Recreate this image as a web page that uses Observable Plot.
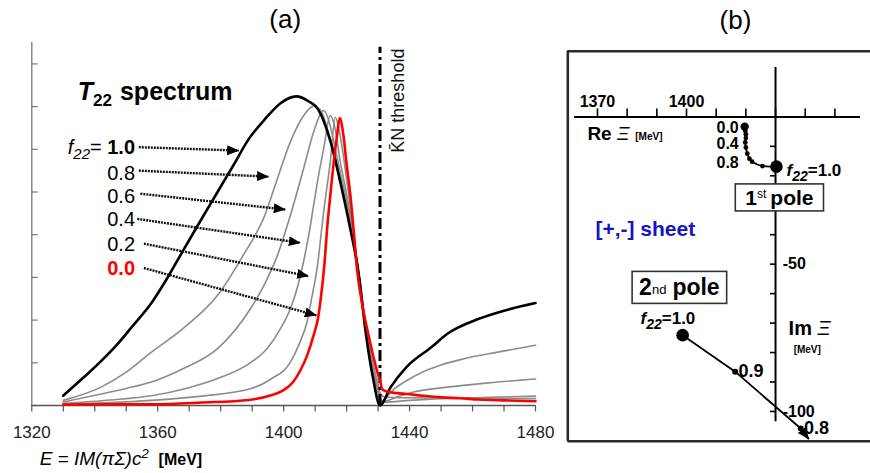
<!DOCTYPE html>
<html><head><meta charset="utf-8">
<script src="https://cdn.jsdelivr.net/npm/d3@7"></script>
<script src="https://cdn.jsdelivr.net/npm/@observablehq/plot@0.6"></script>
<style>
body{margin:0;background:#fff;}
#wrap{position:relative;width:870px;height:473px;overflow:hidden;background:#fff;}
#wrap svg{position:absolute;top:0;overflow:visible;}
</style></head><body><div id="wrap"></div>
<script>
// ================= Panel (a): T22 spectrum =================
const fValues = [1.0, 0.8, 0.6, 0.4, 0.2, 0.0];

const E_f10 = [1330,1336.5,1342,1347,1352,1358,1363,1368,1374,1379,1384,1389,1394,1399,1404,1408,1411,1415,1418,1421,1424,1426,1428.5,1430.6,1434,1439,1447,1452,1462,1470,1480];
const T_f10 = [0.23,0.66,1.04,1.42,1.86,2.40,2.98,3.62,4.38,5.00,5.62,6.25,6.70,7.08,7.24,7.12,6.93,6.15,5.23,4.20,3.00,1.75,0.60,0.0,0.43,0.90,1.37,1.68,2.03,2.22,2.40];

const E_f08 = [1330,1342,1350,1358,1368,1379,1387,1394,1398,1402,1406,1409.5,1412,1414,1416,1418,1420,1422,1424,1426,1428,1430,1430.6,1432,1435,1439,1444,1450,1457,1468,1480];
const T_f08 = [0.12,0.43,0.78,1.25,1.80,2.58,3.50,4.45,5.31,6.15,6.75,7.01,6.88,6.45,5.95,5.35,4.70,3.95,3.00,1.80,0.90,0.30,0.08,0.15,0.38,0.58,0.78,0.95,1.09,1.25,1.41];

const E_f06 = [1330,1342,1350,1358,1368,1379,1389.4,1394,1398,1402,1406.3,1409.5,1412.7,1414,1416,1418,1420,1422,1424,1426,1428,1430,1430.6,1432,1436,1441,1452,1465,1480];
const T_f06 = [0.08,0.27,0.40,0.55,0.86,1.33,2.26,2.85,3.51,4.42,5.54,6.40,6.91,6.75,6.15,5.45,4.80,4.00,3.00,1.85,0.95,0.35,0.12,0.10,0.20,0.31,0.43,0.53,0.62];

const E_f04 = [1330,1345,1358,1369,1379,1389.4,1394.7,1399,1402.1,1404.5,1406.3,1408,1409.5,1411,1412.7,1414.8,1416,1418,1420,1422,1424,1426,1428,1430,1430.6,1432,1440,1450,1465,1480];
const T_f04 = [0.05,0.13,0.23,0.40,0.63,1.00,1.33,1.80,2.26,2.80,3.36,4.00,4.68,5.35,6.01,6.79,6.60,5.70,4.95,4.10,3.00,1.90,1.00,0.40,0.18,0.08,0.12,0.16,0.19,0.22];

const E_f02 = [1330,1345,1358,1374,1389.4,1396,1402.1,1405,1407.4,1409,1410.6,1412.7,1414.8,1416.4,1418,1420,1422,1424,1426,1428,1430,1430.6,1432,1440,1455,1480];
const T_f02 = [0.04,0.07,0.12,0.22,0.39,0.62,1.01,1.45,1.95,2.55,3.20,4.53,5.70,6.75,6.30,5.30,4.20,3.00,1.95,1.10,0.50,0.30,0.20,0.18,0.17,0.16];

const E_f00 = [1330,1345,1358,1374,1389,1396,1400,1403,1405.3,1407.5,1409.5,1411,1411.7,1413,1413.8,1415,1415.9,1417,1417.8,1419,1420,1421.2,1422.3,1423.3,1425,1426.5,1428,1429.7,1430.6,1431.3,1433,1436,1439,1444,1450,1456,1462,1470,1480];
const T_f00 = [0.02,0.03,0.03,0.07,0.13,0.24,0.36,0.55,0.82,1.18,1.64,2.08,2.45,3.35,4.14,5.05,5.70,6.35,6.73,6.32,5.65,4.92,4.05,3.20,2.35,1.80,1.30,0.80,0.59,0.38,0.32,0.29,0.27,0.23,0.19,0.17,0.14,0.12,0.10];

const seriesE = [E_f10, E_f08, E_f06, E_f04, E_f02, E_f00];
const seriesT = [T_f10, T_f08, T_f06, T_f04, T_f02, T_f00];

const xTicksA = d3.range(1320, 1481, 10);
const xTickLabelsA = [1320, 1360, 1400, 1440, 1480];
const yTicksA = d3.range(0, 9, 1);
const thresholdE = [1430.6];

// label texts + arrow annotations (data units)
const fLabelText = ["f22= 1.0", "0.8", "0.6", "0.4", "0.2", "0.0"];
const fLabelT = [6.03, 5.44, 4.89, 4.36, 3.77, 3.20];
const arrowStartE = [1354.0, 1354.0, 1354.5, 1353.5, 1355.6, 1355.6];
const arrowStartT = [6.05, 5.50, 4.96, 4.37, 3.79, 3.22];
const arrowEndE = [1385.7, 1395.2, 1400.5, 1405.3, 1407.9, 1410.4];
const arrowEndT = [5.97, 5.36, 4.59, 3.81, 3.03, 2.11];

// ================= Panel (b): pole trajectories =================
const pole1F  = [0.0, 0.1, 0.2, 0.3, 0.4, 0.5, 0.6, 0.7, 0.8, 0.9, 1.0];
const pole1Re = [1419.6, 1419.8, 1420.0, 1420.0, 1419.8, 1420.0, 1420.5, 1421.2, 1422.1, 1425.6, 1430.3];
const pole1Im = [-3.3, -4.7, -5.9, -7.2, -8.7, -10.4, -12.5, -14.2, -15.2, -16.7, -16.9];

const pole2F  = [1.0, 0.9, 0.8];
const pole2Re = [1398.7, 1416.4, 1438.5];
const pole2Im = [-74.1, -86.5, -105.8];
const pole2ArrowTip = [1441.2, -109.4];

const reTicks = d3.range(1370, 1451, 10);
const reTickLabels = [1370, 1400];
const imTicks = d3.range(-10, -101, -10);
const imTickLabels = [-50, -100];

// ================= build =================
const FONT = "Liberation Sans, Arial, Helvetica, sans-serif";
const wrap = document.getElementById("wrap");

const rowsA = [];
fValues.forEach((f, k) => seriesE[k].forEach((e, i) => rowsA.push({f, E: e, T: seriesT[k][i]})));
const grayRows = rowsA.filter(d => d.f > 0 && d.f < 1);
const blackRows = rowsA.filter(d => d.f === 1);
const redRows = rowsA.filter(d => d.f === 0);
const arrowsA = fValues.map((f, i) => ({f, x1: arrowStartE[i], y1: arrowStartT[i], x2: arrowEndE[i], y2: arrowEndT[i]}));
const labelsA = fValues.map((f, i) => ({f, text: fLabelText[i], E: 1352.8, T: fLabelT[i]}));

const plotA = Plot.plot({
  width: 560, height: 473,
  marginLeft: 31.3, marginRight: 25, marginTop: 42.05, marginBottom: 68,
  x: {domain: [1320, 1480], axis: null},
  y: {domain: [0, 8.5], axis: null},
  style: {fontFamily: FONT, background: "transparent", overflow: "visible"},
  marks: [
    Plot.ruleX([1320], {y1: 0, y2: 8.5, stroke: "#777", strokeWidth: 1.3}),
    Plot.ruleY(yTicksA, {x1: 1320, x2: 1322, stroke: "#777", strokeWidth: 1.2}),
    Plot.ruleY([0], {x1: 1320, x2: 1480, stroke: "#555", strokeWidth: 1.3}),
    Plot.ruleX(xTicksA, {y1: 0, y2: -0.15, stroke: "#555", strokeWidth: 1.2}),
    Plot.text(xTickLabelsA, {x: d => d, y: 0, dy: 27, text: d => String(d), fontSize: 17, fill: "#222"}),
    Plot.line(grayRows, {x: "E", y: "T", z: "f", stroke: "#8c8c8c", strokeWidth: 1.6, curve: "monotone-x"}),
    Plot.line(blackRows, {x: "E", y: "T", stroke: "#000", strokeWidth: 2.6, curve: "monotone-x"}),
    Plot.ruleX(thresholdE, {y1: 0, y2: 8.39, stroke: "#000", strokeWidth: 3, strokeDasharray: "11,4,3,4"}),
    Plot.line(redRows, {x: "E", y: "T", stroke: "#ff0000", strokeWidth: 2.6, curve: "monotone-x"}),
    Plot.link(arrowsA, {x1: "x1", y1: "y1", x2: "x2", y2: "y2", stroke: "#111", strokeWidth: 2.4, strokeDasharray: "2,1"}),
    Plot.text(labelsA.filter(d => d.f > 0), {x: "E", y: "T", text: "text", textAnchor: "end", fontSize: 20, fill: "#000"}),
    Plot.text(labelsA.filter(d => d.f === 0), {x: "E", y: "T", text: "text", textAnchor: "end", fontSize: 20, fontWeight: "bold", fill: "#ff0000"}),
    Plot.text(["T22 spectrum"], {x: 1334.6, y: 7.34, text: d => d, textAnchor: "start", fontSize: 25, fontWeight: "bold"}),
    Plot.text(["K\u0304N threshold"], {x: 1436.4, y: 7.14, text: d => d, rotate: -90, fontSize: 18, fill: "#111"}),
    Plot.text(["(a)"], {x: 1400.5, y: 9.03, text: d => d, fontSize: 26}),
    Plot.text(["E = IM(πΣ)c2 [MeV]"], {x: 1322.5, y: -1.24, text: d => d, textAnchor: "start", fontSize: 19})
  ]
});

// Panel (b)
const pole1Rows = pole1F.map((f, i) => ({f, Re: pole1Re[i], Im: pole1Im[i]}));
const pole2Rows = pole2F.map((f, i) => ({f, Re: pole2Re[i], Im: pole2Im[i]}));
const pole2Arrow = [{x1: pole2Re[2], y1: pole2Im[2], x2: pole2ArrowTip[0], y2: pole2ArrowTip[1]}];

const plotB = Plot.plot({
  width: 310, height: 473,
  marginLeft: 7.3, marginRight: 0, marginTop: 50.7, marginBottom: 32.3,
  x: {domain: [1360, 1462], axis: null},
  y: {domain: [-110.1, 22.3], axis: null},
  style: {fontFamily: FONT, background: "transparent", overflow: "visible"},
  marks: [
    Plot.ruleY([22.3, -110.1], {stroke: "#2a2a2a", strokeWidth: 2.6}),
    Plot.ruleX([1360], {stroke: "#2a2a2a", strokeWidth: 2.6}),
    Plot.ruleY([0], {x1: 1362.3, x2: 1458.6, stroke: "#000", strokeWidth: 2}),
    Plot.ruleX(reTicks, {y1: 0, y2: 2.7, stroke: "#000", strokeWidth: 1.6}),
    Plot.text(reTickLabels, {x: d => d, y: 4.95, text: d => String(d), fontSize: 16, fontWeight: "bold"}),
    Plot.ruleX([1430], {y1: -103.5, y2: 16.8, stroke: "#000", strokeWidth: 2}),
    Plot.ruleY(imTicks, {x1: 1428.3, x2: 1430, stroke: "#000", strokeWidth: 1.6}),
    Plot.text(imTickLabels, {x: 1432.4, y: d => d, text: d => String(d), textAnchor: "start", fontSize: 16, fontWeight: "bold"}),
    Plot.text(["Re Ξ [MeV]"], {x: 1366.6, y: -5.7, text: d => d, textAnchor: "start", fontSize: 19}),
    Plot.text(["Im Ξ"], {x: 1434.4, y: -71.8, text: d => d, textAnchor: "start", fontSize: 20}),
    Plot.text(["[MeV]"], {x: 1436.1, y: -79.0, text: d => d, textAnchor: "start", fontSize: 10, fontWeight: "bold"}),
    // 1st pole
    Plot.line(pole1Rows, {x: "Re", y: "Im", stroke: "#000", strokeWidth: 1.8, curve: "monotone-y"}),
    Plot.dot(pole1Rows.filter(d => d.f > 0 && d.f < 1), {x: "Re", y: "Im", r: 2.4, fill: "#000"}),
    Plot.dot(pole1Rows.filter(d => d.f === 0), {x: "Re", y: "Im", r: 4.2, fill: "#000"}),
    Plot.dot(pole1Rows.filter(d => d.f === 1), {x: "Re", y: "Im", r: 6.3, fill: "#000"}),
    Plot.text(pole1Rows.filter(d => [0, 0.4, 0.8].includes(d.f)), {x: 1417.6, y: "Im", text: d => d.f.toFixed(1), textAnchor: "end", fontSize: 16, fontWeight: "bold", dy: 1}),
    Plot.text(["f22=1.0"], {x: 1433.7, y: -18.2, text: d => d, textAnchor: "start", fontSize: 17, fontWeight: "bold"}),
    Plot.text(["1st pole"], {x: 1431.3, y: -27.6, text: d => d, fontSize: 21, fontWeight: "bold"}),
    Plot.text(["[+,-] sheet"], {x: 1369.3, y: -38.0, text: d => d, textAnchor: "start", fontSize: 21, fontWeight: "bold", fill: "#1515c4"}),
    // 2nd pole
    Plot.line(pole2Rows, {x: "Re", y: "Im", stroke: "#000", strokeWidth: 1.8}),
    Plot.link(pole2Arrow, {x1: "x1", y1: "y1", x2: "x2", y2: "y2", stroke: "#000", strokeWidth: 1.8}),
    Plot.dot(pole2Rows.filter(d => d.f === 1), {x: "Re", y: "Im", r: 6.3, fill: "#000"}),
    Plot.dot(pole2Rows.filter(d => d.f < 1), {x: "Re", y: "Im", r: 3, fill: "#000"}),
    Plot.text(pole2Rows.filter(d => d.f < 1), {x: d => d.Re + 1.1, y: "Im", text: d => d.f.toFixed(1), textAnchor: "start", fontSize: 18, fontWeight: "bold"}),
    Plot.text(["f22=1.0"], {x: 1384.5, y: -68.4, text: d => d, textAnchor: "start", fontSize: 17, fontWeight: "bold"}),
    Plot.text(["2nd pole"], {x: 1397.6, y: -58.1, text: d => d, fontSize: 23, fontWeight: "bold"}),
    Plot.text(["(b)"], {x: 1416.5, y: 32.5, text: d => d, fontSize: 26})
  ]
});

plotA.style.left = "0px";
plotB.style.left = "560px";
wrap.appendChild(plotA);
wrap.appendChild(plotB);

// ---------- rich text (sub/superscripts, mixed styles) ----------
const RICH = {
  "T22 spectrum": '<tspan font-style="italic">T</tspan><tspan dy="6" font-size="17">22</tspan><tspan dy="-6" dx="8">spectrum</tspan>',
  "f22= 1.0": '<tspan font-style="italic">f</tspan><tspan dy="5" font-size="15" font-style="italic">22</tspan><tspan dy="-5">= </tspan><tspan font-weight="bold">1.0</tspan>',
  "f22=1.0": '<tspan font-style="italic">f</tspan><tspan dy="5" font-size="14" font-style="italic">22</tspan><tspan dy="-5">=1.0</tspan>',
  "1st pole": '1<tspan dy="-7" font-size="12" font-weight="normal">st</tspan><tspan dy="7" dx="4">pole</tspan>',
  "2nd pole": '2<tspan dy="-1" font-size="13" font-weight="normal">nd</tspan><tspan dy="1" dx="6">pole</tspan>',
  "E = IM(πΣ)c2 [MeV]": '<tspan font-style="italic">E = IM(πΣ)c</tspan><tspan font-style="italic" font-size="13" dy="-7">2</tspan><tspan dy="7" dx="10" font-weight="bold" font-size="16">[MeV]</tspan>',
  "Re Ξ [MeV]": '<tspan font-weight="bold">Re </tspan><tspan font-style="italic">Ξ</tspan><tspan dx="6" font-size="10" font-weight="bold">[MeV]</tspan>',
  "Im Ξ": '<tspan font-weight="bold">Im </tspan><tspan font-style="italic">Ξ</tspan>'
};
const BOXED = {"1st pole": [10, 2], "2nd pole": [7, 3]};
const NS = "http://www.w3.org/2000/svg";
[plotA, plotB].forEach((svg, n) => {
  svg.querySelectorAll("text").forEach(t => {
    const k = t.textContent;
    if (RICH[k]) t.innerHTML = RICH[k];
    if (BOXED[k]) {
      const [px, py] = BOXED[k];
      const bb = t.getBBox();
      const r = document.createElementNS(NS, "rect");
      r.setAttribute("x", bb.x - px);
      r.setAttribute("y", bb.y - py);
      r.setAttribute("width", bb.width + 2 * px);
      r.setAttribute("height", bb.height + 2 * py);
      r.setAttribute("fill", "#fff");
      r.setAttribute("stroke", "#333");
      r.setAttribute("stroke-width", "1.6");
      if (t.getAttribute("transform")) r.setAttribute("transform", t.getAttribute("transform"));
      t.parentNode.insertBefore(r, t);
    }
  });
  // filled arrowheads on the annotation arrows (link marks)
  const id = "ah" + n;
  const defs = document.createElementNS(NS, "defs");
  defs.innerHTML = `<marker id="${id}" viewBox="0 0 12 10" refX="11.5" refY="5" markerWidth="12" markerHeight="10" markerUnits="userSpaceOnUse" orient="auto"><path d="M0,0L12,5L0,10Z" fill="#000"/></marker>`;
  svg.insertBefore(defs, svg.firstChild);
  svg.querySelectorAll('g[aria-label="link"] path, g[aria-label="link"] line').forEach(p => p.setAttribute("marker-end", `url(#${id})`));
});
</script></body></html>
